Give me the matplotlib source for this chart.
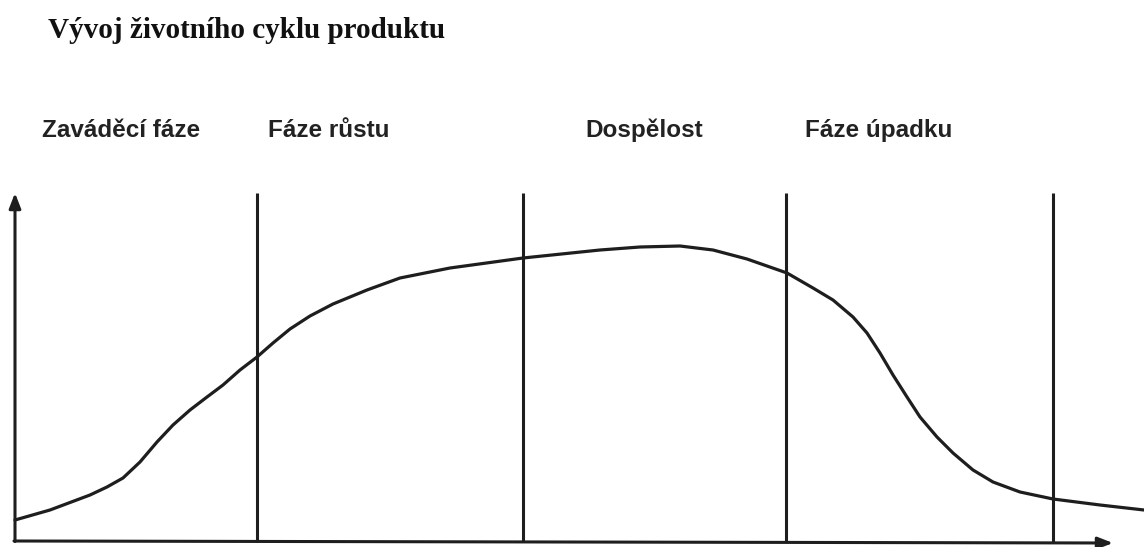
import numpy as np
import matplotlib.pyplot as plt

# Data: product life cycle curve (time vs sales, arbitrary units)
cas = [0, 3.5, 7.5, 9.2, 10.8, 12.5, 14.2, 15.8, 17.5, 19.2, 20.8, 22.5, 24.2,
       25.8, 27.5, 29.5, 31.8, 35.2, 38.5, 43.5, 50.8, 58.5, 62.5, 66.5, 69.8,
       73.2, 77.2, 79.8, 81.8, 83.8, 85.2, 86.5, 87.8, 89.2, 90.5, 92.2, 93.8,
       95.8, 97.8, 100.5, 103.8, 108.5, 112.9]
prodej = [2.1, 3.1, 4.6, 5.4, 6.3, 7.9, 9.9, 11.6, 13.1, 14.4, 15.6, 17.1, 18.4,
          19.8, 21.2, 22.5, 23.7, 25.1, 26.3, 27.3, 28.3, 29.1, 29.4, 29.5, 29.1,
          28.2, 26.8, 25.3, 24.1, 22.4, 20.8, 18.8, 16.6, 14.4, 12.4, 10.4, 8.8,
          7.1, 5.9, 4.9, 4.2, 3.6, 3.1]
hranice_fazi = [24.2, 50.8, 77.1, 103.8]
nazvy_fazi = ['Zaváděcí fáze', 'Fáze růstu', 'Dospělost', 'Fáze úpadku']
pozice_nazvu = [2.7, 25.3, 57.0, 79.0]
titulek = 'Vývoj životního cyklu produktu'

fig = plt.figure(figsize=(11.44, 5.47), dpi=100)
ax = fig.add_axes([0, 0, 1, 1])
ax.set_xlim(-1.5, 112.9)
ax.set_ylim(-0.6, 54.1)
ax.axis('off')

barva = '#1e1e1e'

# osy se sipkami
ax.annotate('', xy=(0, 34.8), xytext=(0, -0.05),
            arrowprops=dict(arrowstyle='-|>,head_length=0.9,head_width=0.35',
                            lw=2.2, color=barva, shrinkA=0, shrinkB=0))
ax.annotate('', xy=(109.8, -0.2), xytext=(-0.1, 0),
            arrowprops=dict(arrowstyle='-|>,head_length=0.9,head_width=0.35',
                            lw=2.2, color=barva, shrinkA=0, shrinkB=0))

# hranice fazi
for h in hranice_fazi:
    ax.plot([h, h], [-0.1, 34.8], color=barva, lw=2.2, solid_capstyle='butt')

# krivka
ax.plot(cas, prodej, color=barva, lw=2.3, solid_joinstyle='round',
        solid_capstyle='round')

# texty
ax.text(3.3, 50.3, titulek, fontsize=21, fontweight='bold',
        family='Liberation Serif', color='#111111', va='baseline')
for x, n in zip(pozice_nazvu, nazvy_fazi):
    ax.text(x, 40.4, n, fontsize=17.5, fontweight='bold',
            family='Liberation Sans', color='#222222', va='baseline')

fig.savefig('out.png', dpi=100)
